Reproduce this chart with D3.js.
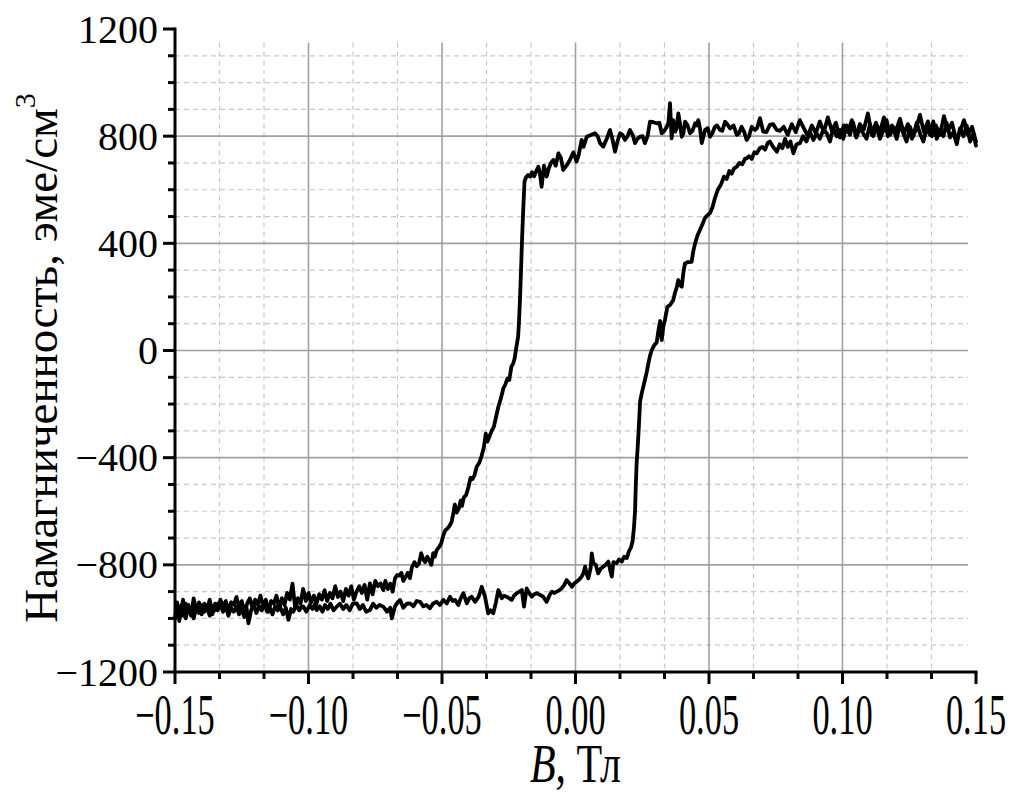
<!DOCTYPE html>
<html><head><meta charset="utf-8">
<script src="https://cdn.jsdelivr.net/npm/d3@7"></script>
<style>html,body{margin:0;padding:0;background:#fff;}svg{display:block;}</style>
</head><body>
<svg id="chart" width="1016" height="793"></svg>
<script>
// ---- data ----
const xMajorTicks = [-0.15, -0.10, -0.05, 0.00, 0.05, 0.10, 0.15];
const xTickLabels = ["\u22120.15", "\u22120.10", "\u22120.05", "0.00", "0.05", "0.10", "0.15"];
const yMajorTicks = [-1200, -800, -400, 0, 400, 800, 1200];
const yTickLabels = ["\u22121200", "\u2212800", "\u2212400", "0", "400", "800", "1200"];
const xTitle = ["B", ", Тл"];
const yTitle = ["Намагниченность, эме/см", "3"];

// descending branch (B from +0.15 to -0.15)
const descending = [
[0.150,780],[0.1485,835],[0.147,805],[0.1455,860],[0.144,815],[0.1425,790],[0.141,850],[0.1395,820],[0.138,875],[0.1365,805],
[0.135,840],[0.1335,800],[0.132,855],[0.1305,815],[0.129,880],[0.1275,825],[0.126,790],[0.1245,845],[0.123,810],[0.1215,865],
[0.120,820],[0.1185,840],[0.117,800],[0.1155,870],[0.114,815],[0.1125,850],[0.111,805],[0.1095,885],[0.108,825],[0.1065,845],
[0.105,800],[0.1035,860],[0.102,815],[0.1005,840],[0.099,795],[0.0975,850],[0.096,820],[0.0945,870],[0.093,815],[0.0915,855],
[0.090,810],[0.0885,840],[0.087,800],[0.0855,830],[0.084,860],[0.0825,815],[0.081,845],[0.0795,805],[0.078,835],[0.0765,820],
[0.0754,823],[0.0740,845],[0.0728,842],[0.0715,815],[0.0703,817],[0.0691,867],[0.0680,830],[0.0672,823],[0.0660,835],[0.0650,800],
[0.0641,786],[0.0632,815],[0.0622,835],[0.0612,810],[0.0604,805],[0.0592,840],[0.0579,829],[0.0568,845],[0.0560,854],[0.0550,820],
[0.0541,823],[0.0530,840],[0.0522,835],[0.0512,810],[0.0504,798],[0.0495,830],[0.0485,823],[0.0478,795],[0.0473,774],[0.0466,830],
[0.0460,860],[0.0454,840],[0.0448,848],[0.0438,820],[0.0429,811],[0.0420,840],[0.0410,854],[0.0404,810],[0.0398,798],[0.0391,850],
[0.0385,885],[0.0379,830],[0.0373,817],[0.0366,860],[0.0360,792],[0.0354,923],[0.0348,850],[0.0342,835],[0.0333,820],[0.0323,811],
[0.0314,850],[0.0304,848],[0.0292,852],[0.0279,854],[0.0270,800],[0.0260,774],[0.0251,800],[0.0242,798],[0.0232,790],[0.0223,774],
[0.0214,805],[0.0204,823],[0.0195,800],[0.0185,786],[0.0176,805],[0.0167,811],[0.0157,780],[0.0148,742],[0.0138,790],[0.0129,823],
[0.0117,790],[0.0104,761],[0.0092,774],[0.0083,800],[0.0073,811],[0.0060,805],[0.0042,798],[0.0030,760],[0.0023,786],[0.0012,730],
[0.0004,705],[-0.0008,740],[-0.0021,711],[-0.0034,690],[-0.0046,674],[-0.0055,720],[-0.0064,736],[-0.0074,690],[-0.0083,711],[-0.0092,700],
[-0.0100,680],[-0.0108,649],[-0.0118,690],[-0.0127,611],[-0.0133,660],[-0.0139,686],[-0.0147,670],[-0.0155,650],[-0.0163,665],[-0.0170,649],
[-0.0178,655],[-0.0186,645],[-0.0191,630],[-0.0196,520],[-0.0200,420],[-0.0204,300],[-0.0208,188],[-0.0212,100],[-0.0215,51],[-0.0222,10],
[-0.0228,-30],[-0.0233,-48],[-0.0240,-60],[-0.0248,-110],[-0.0255,-105],[-0.0262,-125],[-0.0270,-141],[-0.0280,-180],[-0.0289,-210],[-0.0298,-250],
[-0.0306,-285],[-0.0314,-300],[-0.0322,-320],[-0.0330,-340],[-0.0336,-310],[-0.0343,-360],[-0.0352,-395],[-0.0361,-420],[-0.0370,-434],[-0.0378,-465],
[-0.0386,-480],[-0.0393,-475],[-0.0401,-510],[-0.0410,-540],[-0.0418,-548],[-0.0425,-580],[-0.0430,-560],[-0.0437,-590],[-0.0445,-605],[-0.0452,-575],
[-0.0458,-610],[-0.0464,-640],[-0.0472,-655],[-0.0480,-665],[-0.0488,-672],[-0.0495,-690],[-0.0503,-720],[-0.0512,-735],[-0.0520,-745],[-0.0527,-770],
[-0.0533,-757],[-0.0540,-800],[-0.0547,-785],[-0.0555,-770],[-0.0563,-790],[-0.0570,-780],[-0.0578,-757],[-0.0586,-795],[-0.0595,-805],[-0.0603,-790],
[-0.0613,-810],[-0.0620,-850],[-0.0628,-830],[-0.0636,-845],[-0.0645,-860],[-0.0652,-830],[-0.0660,-840],[-0.0668,-838],[-0.0676,-850],[-0.0685,-900],
[-0.0694,-870],[-0.0703,-890],[-0.0712,-860],[-0.0720,-894],[-0.0730,-870],[-0.0740,-880],[-0.0750,-860],[-0.0760,-910],[-0.0770,-869],[-0.0780,-930],
[-0.0790,-875],[-0.0800,-905],[-0.0810,-880],[-0.0820,-900],[-0.0830,-930],[-0.0840,-880],[-0.0850,-915],[-0.0860,-890],[-0.0870,-935],[-0.0880,-900],
[-0.0890,-920],[-0.0900,-880],[-0.0910,-925],[-0.0920,-905],[-0.0930,-935],[-0.0940,-895],[-0.0950,-930],[-0.0960,-910],[-0.0970,-945],[-0.0980,-915],
[-0.0990,-940],[-0.1000,-905],[-0.1010,-935],[-0.1020,-890],[-0.1030,-945],[-0.1040,-925],[-0.1050,-960],[-0.1060,-870],[-0.1070,-930],[-0.1080,-905],
[-0.1090,-950],[-0.1100,-925],[-0.1110,-965],[-0.1120,-915],[-0.1130,-945],[-0.1140,-935],[-0.1150,-975],[-0.1160,-930],[-0.1170,-955],[-0.1180,-915],
[-0.1190,-950],[-0.1200,-930],[-0.1210,-960],[-0.1220,-925],[-0.1230,-945],[-0.1240,-980],[-0.1250,-935],[-0.1260,-960],[-0.1270,-920],[-0.1280,-950],
[-0.1290,-940],[-0.1300,-975],[-0.1310,-935],[-0.1320,-960],[-0.1330,-930],[-0.1340,-970],[-0.1350,-945],[-0.1360,-985],[-0.1370,-930],[-0.1380,-965],
[-0.1390,-945],[-0.1400,-985],[-0.1410,-940],[-0.1420,-975],[-0.1430,-925],[-0.1440,-990],[-0.1450,-950],[-0.1460,-1000],[-0.1470,-930],[-0.1480,-995],
[-0.1490,-960],[-0.1500,-1000]
];

// ascending branch (B from -0.15 to +0.15)
const ascending = [
[-0.1500,-1000],[-0.1492,-940],[-0.1484,-1010],[-0.1476,-950],[-0.1468,-990],[-0.1460,-945],[-0.1450,-975],[-0.1440,-960],[-0.1430,-1000],[-0.1420,-955],
[-0.1410,-980],[-0.1400,-950],[-0.1390,-975],[-0.1380,-960],[-0.1370,-990],[-0.1360,-955],[-0.1350,-970],[-0.1340,-945],[-0.1332,-944],[-0.1320,-975],
[-0.1310,-955],[-0.1300,-990],[-0.1290,-960],[-0.1280,-975],[-0.1269,-956],[-0.1260,-985],[-0.1250,-965],[-0.1240,-995],[-0.1232,-960],[-0.1225,-1018],
[-0.1215,-970],[-0.1205,-950],[-0.1195,-980],[-0.1185,-955],[-0.1175,-970],[-0.1165,-945],[-0.1155,-975],[-0.1145,-960],[-0.1135,-985],[-0.1125,-955],
[-0.1115,-970],[-0.1107,-956],[-0.1095,-985],[-0.1085,-960],[-0.1075,-1005],[-0.1065,-965],[-0.1057,-975],[-0.1045,-950],[-0.1035,-970],[-0.1025,-955],
[-0.1019,-956],[-0.1008,-975],[-0.0995,-950],[-0.0985,-965],[-0.0975,-945],[-0.0969,-969],[-0.0958,-955],[-0.0948,-975],[-0.0938,-950],[-0.0928,-965],
[-0.0918,-945],[-0.0906,-970],[-0.0894,-956],[-0.0882,-945],[-0.0870,-965],[-0.0858,-950],[-0.0846,-970],[-0.0834,-945],[-0.0819,-944],[-0.0808,-965],
[-0.0796,-950],[-0.0784,-975],[-0.0770,-969],[-0.0758,-945],[-0.0746,-960],[-0.0734,-950],[-0.0720,-956],[-0.0706,-975],[-0.0694,-960],[-0.0688,-1000],
[-0.0676,-955],[-0.0666,-940],[-0.0657,-931],[-0.0645,-960],[-0.0632,-945],[-0.0620,-944],[-0.0607,-955],[-0.0595,-935],[-0.0582,-938],[-0.0570,-955],
[-0.0558,-950],[-0.0545,-962],[-0.0533,-944],[-0.0520,-938],[-0.0508,-950],[-0.0495,-931],[-0.0482,-944],[-0.0470,-919],[-0.0460,-935],[-0.0451,-931],
[-0.0439,-950],[-0.0430,-925],[-0.0420,-906],[-0.0407,-944],[-0.0398,-925],[-0.0389,-919],[-0.0376,-938],[-0.0363,-920],[-0.0351,-882],[-0.0339,-919],
[-0.0327,-981],[-0.0318,-970],[-0.0308,-981],[-0.0298,-940],[-0.0289,-894],[-0.0276,-925],[-0.0268,-915],[-0.0258,-919],[-0.0248,-925],[-0.0239,-931],
[-0.0230,-915],[-0.0220,-906],[-0.0210,-900],[-0.0201,-894],[-0.0193,-956],[-0.0183,-888],[-0.0174,-905],[-0.0164,-919],[-0.0155,-910],[-0.0145,-906],
[-0.0133,-912],[-0.0121,-919],[-0.0108,-938],[-0.0098,-915],[-0.0089,-900],[-0.0080,-905],[-0.0070,-900],[-0.0061,-895],[-0.0052,-888],[-0.0042,-875],
[-0.0033,-857],[-0.0022,-870],[-0.0014,-882],[-0.0005,-870],[0.0004,-863],[0.0014,-855],[0.0023,-844],[0.0030,-830],[0.0036,-807],[0.0042,-835],
[0.0048,-850],[0.0057,-810],[0.0061,-757],[0.0067,-794],[0.0076,-800],[0.0085,-832],[0.0094,-815],[0.0104,-807],[0.0113,-800],[0.0123,-788],
[0.0130,-820],[0.0136,-844],[0.0142,-790],[0.0154,-794],[0.0163,-780],[0.0173,-788],[0.0182,-770],[0.0192,-775],[0.0200,-750],[0.0208,-735],
[0.0214,-710],[0.0219,-660],[0.0223,-600],[0.0226,-500],[0.0229,-420],[0.0233,-360],[0.0237,-290],[0.0242,-190],[0.0248,-160],[0.0254,-135],
[0.0260,-110],[0.0267,-80],[0.0273,-48],[0.0279,-20],[0.0285,0],[0.0295,20],[0.0304,30],[0.0311,77],[0.0317,110],[0.0323,39],
[0.0329,90],[0.0335,114],[0.0344,163],[0.0354,170],[0.0366,188],[0.0372,213],[0.0379,235],[0.0385,263],[0.0391,245],[0.0398,238],
[0.0404,290],[0.0410,325],[0.0422,330],[0.0435,331],[0.0441,370],[0.0448,400],[0.0457,430],[0.0466,450],[0.0475,470],[0.0485,495],
[0.0494,505],[0.0504,513],[0.0513,535],[0.0522,568],[0.0533,600],[0.0545,620],[0.0556,649],[0.0566,640],[0.0576,670],[0.0585,660],
[0.0594,680],[0.0604,686],[0.0614,700],[0.0625,695],[0.0634,715],[0.0641,717],[0.0650,725],[0.0660,715],[0.0670,740],[0.0679,736],
[0.0690,755],[0.0700,760],[0.0710,750],[0.0720,775],[0.0728,780],[0.0740,760],[0.0754,742],[0.0765,770],[0.0775,755],[0.0785,790],
[0.0795,760],[0.0805,780],[0.0816,736],[0.0828,770],[0.0841,774],[0.0852,800],[0.0865,780],[0.0878,815],[0.0891,786],[0.0903,810],
[0.0915,790],[0.0928,825],[0.0941,811],[0.0953,780],[0.0965,830],[0.0978,800],[0.0991,823],[0.1003,790],[0.1015,840],[0.1028,805],
[0.1040,850],[0.1052,795],[0.1065,830],[0.1078,810],[0.1090,790],[0.1103,845],[0.1115,800],[0.1128,835],[0.1140,790],[0.1153,820],
[0.1165,860],[0.1178,805],[0.1190,830],[0.1203,790],[0.1215,845],[0.1228,810],[0.1240,780],[0.1253,835],[0.1265,800],[0.1278,850],
[0.1290,810],[0.1303,780],[0.1315,830],[0.1328,805],[0.1340,855],[0.1353,790],[0.1365,820],[0.1378,800],[0.1390,850],[0.1403,795],
[0.1415,815],[0.1428,770],[0.1440,830],[0.1453,800],[0.1465,840],[0.1478,780],[0.1490,810],[0.1500,765]
];

// ---- chart ----
const svg = d3.select("#chart");
const L = 175, R = 976, T = 29, B = 672;
const x = d3.scaleLinear().domain([-0.15, 0.15]).range([L, R]);
const y = d3.scaleLinear().domain([-1200, 1200]).range([B, T]);
const FONT = "'Liberation Serif','Times New Roman',serif";

// minor positions (thirds for x, quarters for y)
const xMinor = [];
for (let i = 0; i < xMajorTicks.length - 1; i++) {
  const a = xMajorTicks[i], b = xMajorTicks[i + 1];
  xMinor.push(a + (b - a) / 3, a + 2 * (b - a) / 3);
}
const yMinor = [];
for (let i = 0; i < yMajorTicks.length - 1; i++) {
  const a = yMajorTicks[i], b = yMajorTicks[i + 1];
  yMinor.push(a + (b - a) / 4, a + (b - a) / 2, a + 3 * (b - a) / 4);
}

const gridTop = y(1150), gridRight = x(0.147);
const grid = svg.append("g");
// dashed minor grid
grid.selectAll(".vmin").data(xMinor).join("line")
  .attr("x1", d => x(d)).attr("x2", d => x(d)).attr("y1", gridTop).attr("y2", B)
  .attr("stroke", "#c8c8c8").attr("stroke-width", 1.2).attr("stroke-dasharray", "5,4");
grid.selectAll(".hmin").data(yMinor).join("line")
  .attr("x1", L).attr("x2", gridRight).attr("y1", d => y(d)).attr("y2", d => y(d))
  .attr("stroke", "#c8c8c8").attr("stroke-width", 1.2).attr("stroke-dasharray", "5,4");
// solid major grid
grid.selectAll(".vmaj").data(xMajorTicks.slice(1, -1)).join("line")
  .attr("x1", d => x(d)).attr("x2", d => x(d)).attr("y1", gridTop).attr("y2", B)
  .attr("stroke", "#a0a0a0").attr("stroke-width", 1.6);
grid.selectAll(".hmaj").data(yMajorTicks.slice(1, -1)).join("line")
  .attr("x1", L).attr("x2", gridRight).attr("y1", d => y(d)).attr("y2", d => y(d))
  .attr("stroke", "#a0a0a0").attr("stroke-width", 1.6);

// curves
const line = d3.line().x(d => x(d[0])).y(d => y(d[1]));
[descending, ascending].forEach(s => {
  svg.append("path").datum(s).attr("d", line)
    .attr("fill", "none").attr("stroke", "#000").attr("stroke-width", 3.8)
    .attr("stroke-linejoin", "round").attr("stroke-linecap", "round");
});

// axes
const ax = svg.append("g").attr("stroke", "#000").attr("stroke-width", 3);
ax.append("line").attr("x1", L).attr("x2", L).attr("y1", T - 1.5).attr("y2", B + 1.5);
ax.append("line").attr("x1", L - 1.5).attr("x2", R + 1.5).attr("y1", B).attr("y2", B);
ax.selectAll(".yt").data(yMajorTicks).join("line")
  .attr("x1", L - 12).attr("x2", L).attr("y1", d => y(d)).attr("y2", d => y(d));
ax.selectAll(".ytm").data(yMinor).join("line")
  .attr("x1", L - 7).attr("x2", L).attr("y1", d => y(d)).attr("y2", d => y(d));
ax.selectAll(".xt").data(xMajorTicks).join("line")
  .attr("x1", d => x(d)).attr("x2", d => x(d)).attr("y1", B).attr("y2", B + 12);
ax.selectAll(".xtm").data(xMinor).join("line")
  .attr("x1", d => x(d)).attr("x2", d => x(d)).attr("y1", B).attr("y2", B + 7);

// y tick labels
svg.selectAll(".ylab").data(yMajorTicks).join("text")
  .attr("x", L - 17).attr("y", d => y(d)).attr("dy", "0.34em")
  .attr("text-anchor", "end").attr("font-family", FONT).attr("font-size", 40)
  .attr("fill", "#000").text((d, i) => yTickLabels[i]);

// x tick labels (tall, condensed)
svg.selectAll(".xlab").data(xMajorTicks).join("text")
  .attr("transform", d => `translate(${x(d)},734) scale(0.86,1.42)`)
  .attr("text-anchor", "middle").attr("font-family", FONT).attr("font-size", 40)
  .attr("fill", "#000").text((d, i) => xTickLabels[i]);

// x title
const xt = svg.append("text")
  .attr("transform", `translate(${(L + R) / 2},782) scale(1.0,1.3)`)
  .attr("text-anchor", "middle").attr("font-family", FONT).attr("font-size", 42).attr("fill", "#000");
xt.append("tspan").attr("font-style", "italic").text(xTitle[0]);
xt.append("tspan").text(xTitle[1]);

// y title
const yt = svg.append("text")
  .attr("transform", `translate(57,358) rotate(-90)`)
  .attr("text-anchor", "middle").attr("font-family", FONT).attr("font-size", 47).attr("fill", "#000");
yt.append("tspan").text(yTitle[0]);
yt.append("tspan").attr("font-size", 30).attr("dy", "-0.75em").text(yTitle[1]);
</script>
</body></html>
